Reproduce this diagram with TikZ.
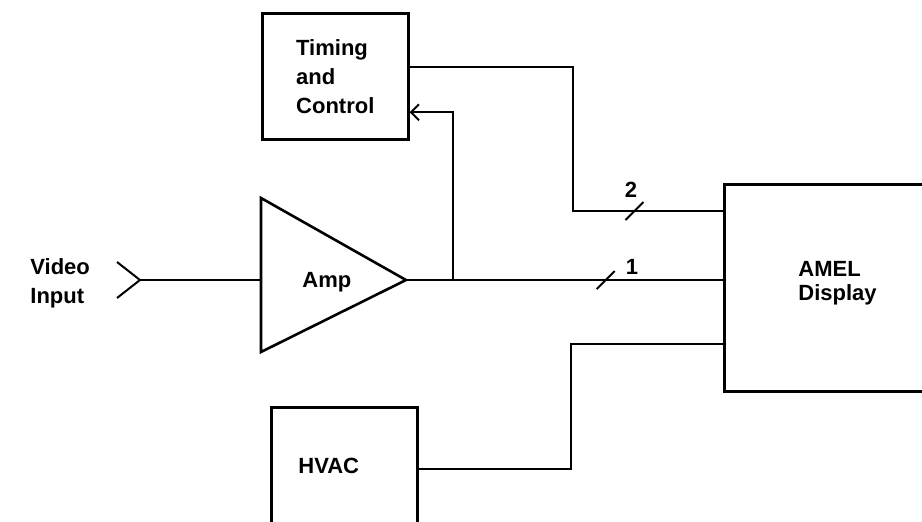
\documentclass[tikz,border=0pt]{standalone}
\usepackage{fontspec}
\setmainfont{Liberation Sans}
\usetikzlibrary{arrows.meta, positioning, calc}

\begin{document}
\begin{tikzpicture}[
    x=0.5pt, y=-0.5pt,
    font=\fontsize{11}{14.5}\selectfont\bfseries,
    blk/.style={draw, line width=1.3pt, inner sep=0pt},
    lbl/.style={align=left, inner sep=0pt, anchor=west},
    wire/.style={line width=1pt},
    arr/.style={wire, -{Straight Barb[length=4pt, width=8pt, line width=1pt]}}
]
\useasboundingbox (0,0) rectangle (922,521);

% blocks
\node[blk, anchor=north west, minimum width=73pt, minimum height=63pt,
      align=left] (tc) at (261,12) {Timing\\and\\Control};
\node[blk, anchor=north west, minimum width=116pt, minimum height=103.5pt]
      (amel) at (723,183) {};
\node[lbl, font=\fontsize{11}{12}\selectfont\bfseries] (amellbl) at (798,283)
      {AMEL\\Display};
\node[blk, anchor=north west, minimum width=73pt, minimum height=70pt]
      (hvac) at (270,406) {};
\node[lbl] (hvaclbl) at (298,466) {HVAC};

% amplifier
\coordinate (ampin)  at (261,280);
\coordinate (ampout) at (406,280);
\draw[blk] (261,198) -- (ampout) -- (261,352) -- cycle;
\node[lbl, anchor=base west] (amp) at (302,287) {Amp};

% video input
\coordinate (vin) at (140,280);
\draw[wire] (117,262) -- (vin) -- (117,298);
\node[lbl] (vid) at (30,283) {Video\\Input};

% connectors
\coordinate (tap)   at (453,280);
\coordinate (bend2) at (573,211);
\coordinate (bend3) at (571,344);
\draw[wire] (vin) -- (ampin);
\draw[wire] (ampout) -- coordinate[pos=0.63] (s1) (ampout -| amel.west);
\draw[arr] (tap) |- ([yshift=-18pt]tc.east);
\draw[wire] ([yshift=4.5pt]tc.east) -| (bend2)
      -- coordinate[pos=0.41] (s2) (bend2 -| amel.west);
\draw[wire] (hvac.east |- 0,469) -| (bend3) -- (bend3 -| amel.west);

% bus widths
\draw[wire] ($(s1)+(-9,9)$) -- ($(s1)+(9,-9)$);
\draw[wire] ($(s2)+(-9,9)$) -- ($(s2)+(9,-9)$);
\node (n1) at (632,267) {1};
\node (n2) at (631,190) {2};
\end{tikzpicture}
\end{document}
